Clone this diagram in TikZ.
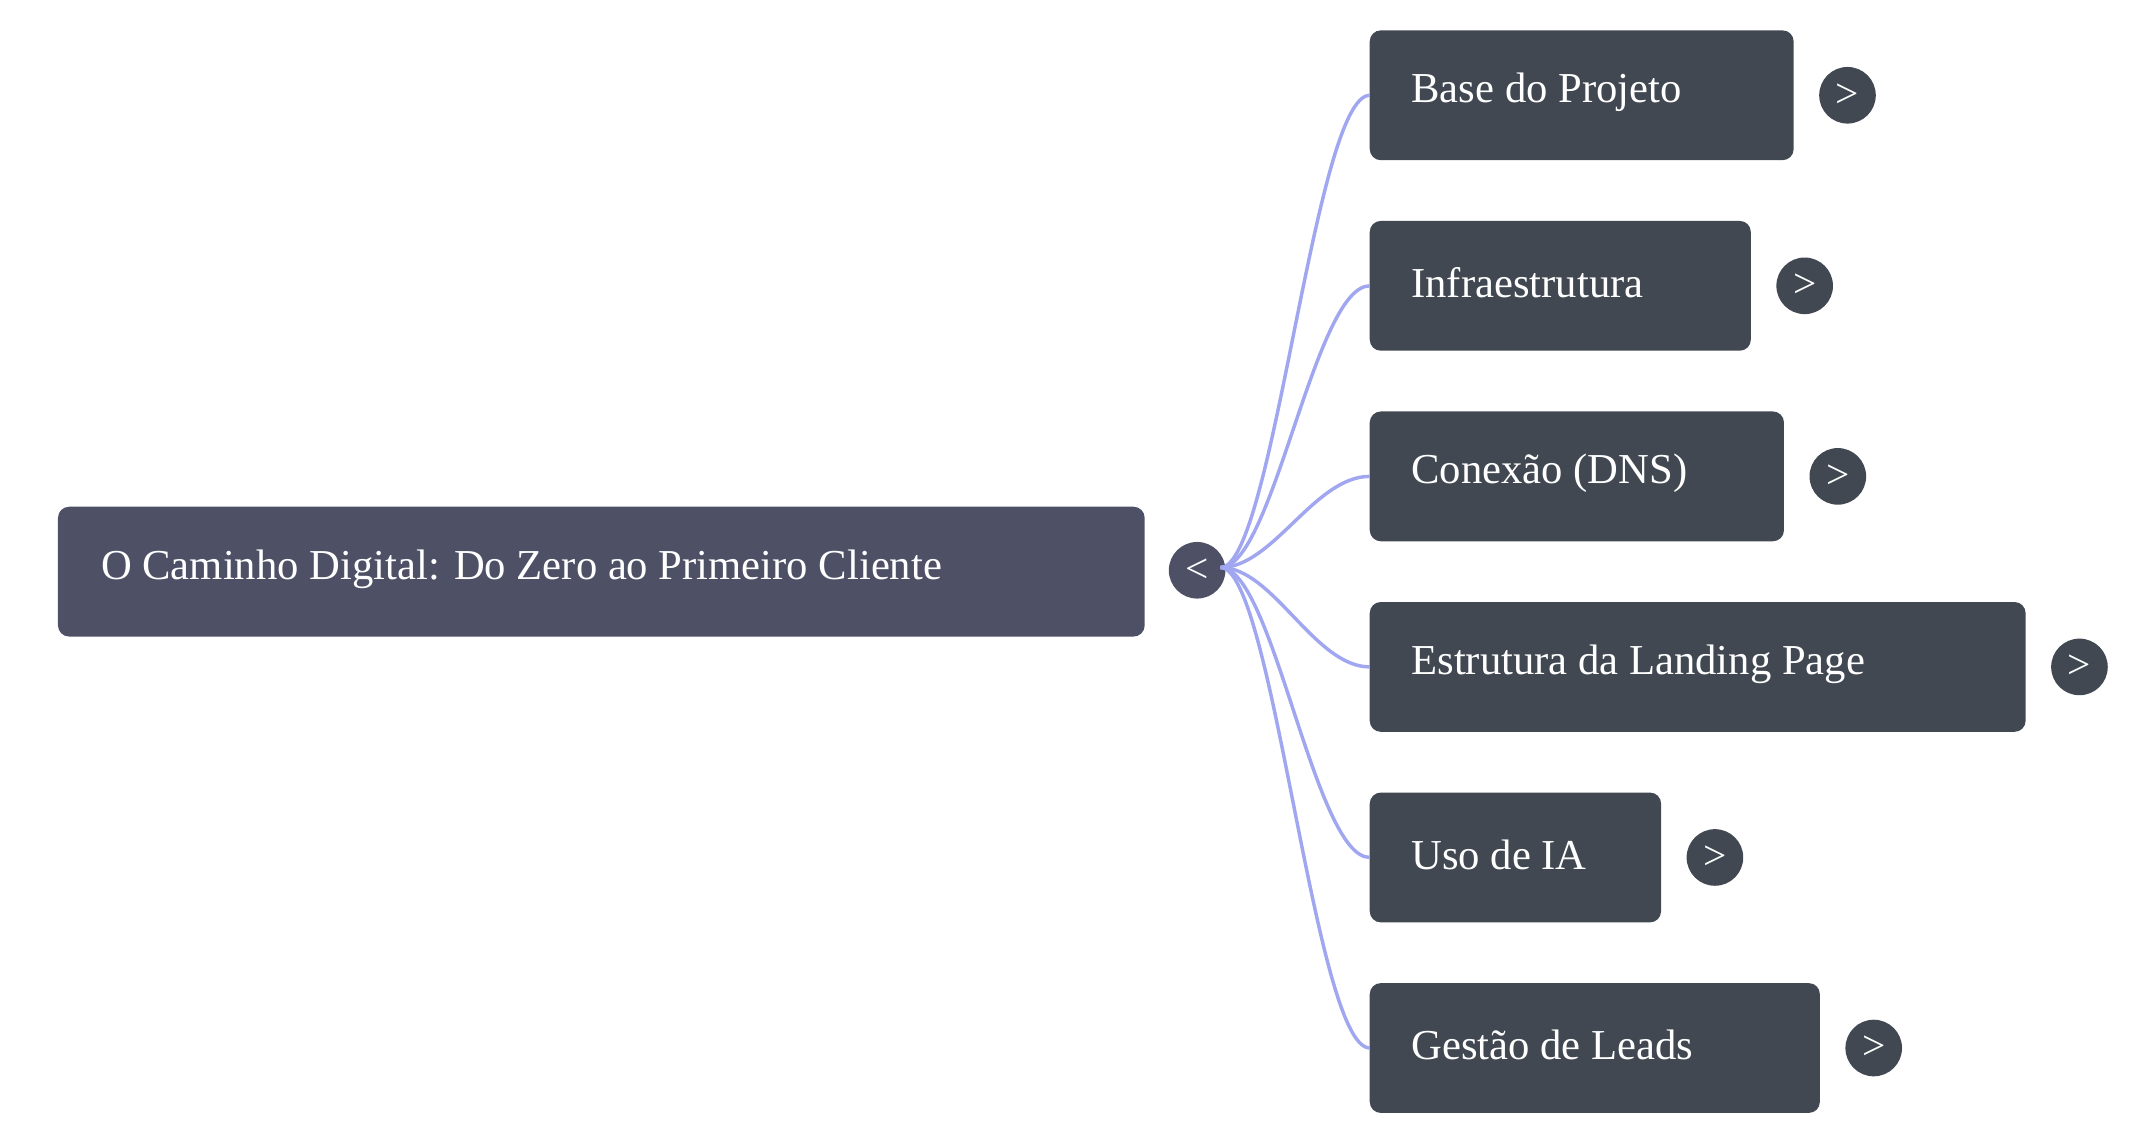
\documentclass[tikz,border=0pt]{standalone}
\usepackage{fontspec}
\setmainfont{Liberation Serif}
\definecolor{rootc}{HTML}{4E5066}
\definecolor{boxc}{HTML}{414851}
\definecolor{edgec}{HTML}{A0A6F0}
\begin{document}
\begin{tikzpicture}[x=1bp,y=-1bp,
  box/.style={fill=boxc,rounded corners=8bp},
  rootbox/.style={fill=rootc,rounded corners=8bp},
  lbl/.style={anchor=west,text=white,font=\fontsize{31}{36}\selectfont,inner sep=0},
  btn/.style={circle,fill=boxc,minimum size=41bp,inner sep=0,text=white,font=\fontsize{30}{30}\selectfont},
  edge/.style={draw=edgec,line width=2.5bp}]
\useasboundingbox (0,0) rectangle (1560,823);
\fill[rootbox] (42,367) rectangle (829,461);
\node[lbl] (root) at (73,412) {O Caminho Digital: Do Zero ao Primeiro Cliente};
\node[btn,fill=rootc] (rb) at (867,413) {<};
\coordinate (s) at (884,411);
\foreach \n/\t/\r/\y [count=\i] in {
  a/Base do Projeto/1299/69,
  b/Infraestrutura/1268/207,
  c/Conexão (DNS)/1292/345,
  d/Estrutura da Landing Page/1467/483,
  e/Uso de IA/1203/621,
  f/Gestão de Leads/1318/759}{
  \fill[box] (992,\y-47) rectangle (\r,\y+47);
  \coordinate (\n) at (992,\y);
  \node[lbl] (t\n) at (1022,\y-2) {\t};
  \node[btn] (b\n) at (\r+39,\y) {>};
  \draw[edge] (s) .. controls (922,411) and (952,\y) .. (\n);
}
\end{tikzpicture}
\end{document}
